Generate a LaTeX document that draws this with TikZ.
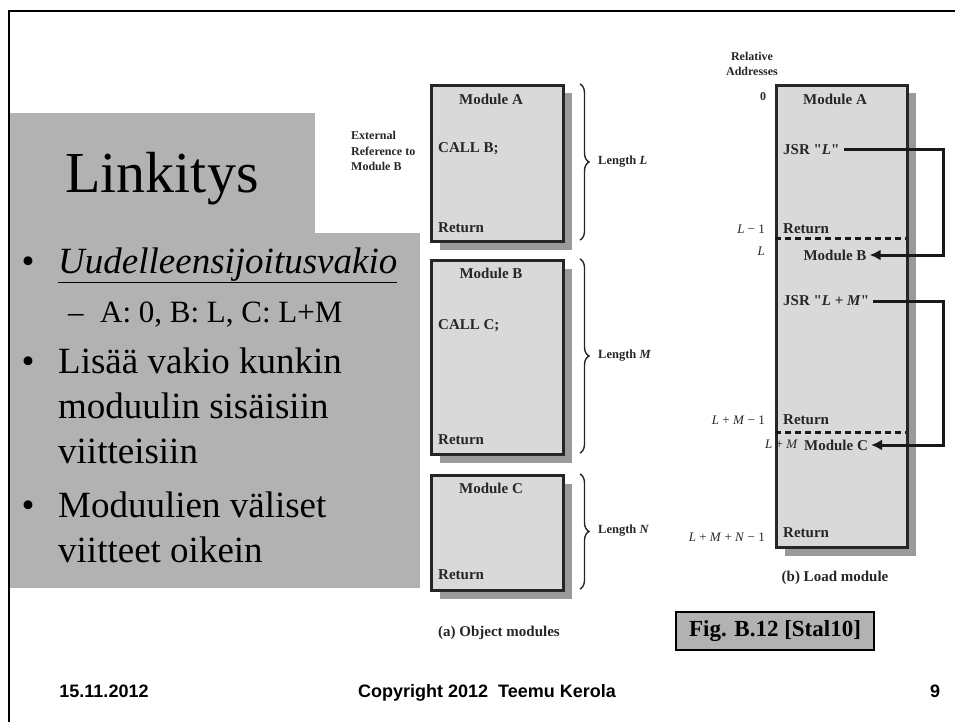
\documentclass[tikz,border=0pt]{standalone}
\usepackage{fontspec}
\setmainfont{Liberation Serif}
\setsansfont{Liberation Sans}
\usetikzlibrary{positioning,decorations.pathreplacing,shadows,arrows.meta}
\definecolor{slidegray}{HTML}{B2B2B2}
\definecolor{boxgray}{HTML}{D9D9D9}
\definecolor{shadowgray}{HTML}{9A9A9A}
\tikzset{>=stealth,
  modbox/.style={draw=black!85, line width=3pt, fill=boxgray, anchor=north west, inner sep=0pt,
    drop shadow={shadow xshift=8pt, shadow yshift=-8pt, fill=shadowgray, opacity=1}},
  modtxt/.style={font=\fontsize{15}{16}\selectfont\bfseries, text=black!85, inner sep=0pt},
  smalltxt/.style={font=\fontsize{12}{15.5}\selectfont\bfseries, text=black!85, inner sep=0pt, align=left},
  addr/.style={font=\fontsize{13}{14}\selectfont, text=black!85, anchor=east, inner sep=0pt},
  lenlbl/.style={font=\fontsize{12.5}{14}\selectfont\bfseries, text=black!85, anchor=west, inner sep=0pt},
  bodytxt/.style={font=\fontsize{37}{40}\selectfont, anchor=base west, inner sep=0pt},
  subtxt/.style={font=\fontsize{31}{34}\selectfont, anchor=base west, inner sep=0pt},
  foot/.style={font=\sffamily\bfseries\fontsize{18}{20}\selectfont, anchor=base, inner sep=0pt},
  jump/.style={line width=3pt, draw=black!90, -{Latex[length=11pt,width=11pt]}},
  lenbrace/.style={decorate, decoration={brace, amplitude=9pt}, line width=1.4pt, draw=black!85}
}
\begin{document}
\begin{tikzpicture}[x=1pt,y=-1pt]
    \useasboundingbox (0,0) rectangle (955,722);
    % slide frame and text panel
    \draw[line width=2.5pt] (9,722) -- (9,11) -- (955,11);
    \fill[slidegray] (10,113) rectangle (315,233);
    \fill[slidegray] (10,233) rectangle (420,588);
    \node[font=\fontsize{58}{60}\selectfont, anchor=base west, inner sep=0pt] (title) at (65,193) {Linkitys};

    \node[bodytxt, anchor=base] (dot1) at (28,273) {•};
    \node[bodytxt] (item1) at (58,273) {\underline{\textit{Uudelleensijoitusvakio}}};
    \node[subtxt] (dash1) at (68,322) {–};
    \node[subtxt] (sub1) at (100,322) {A: 0, B: L, C: L+M};
    \node[bodytxt, anchor=base] (dot2) at (28,373) {•};
    \node[bodytxt] (item2) at (58,373) {Lisää vakio kunkin};
    \node[bodytxt] (item2b) at (58,418) {moduulin sisäisiin};
    \node[bodytxt] (item2c) at (58,463) {viitteisiin};
    \node[bodytxt, anchor=base] (dot3) at (28,517) {•};
    \node[bodytxt] (item3) at (58,517) {Moduulien väliset};
    \node[bodytxt] (item3b) at (58,562) {viitteet oikein};

    % (a) object modules
    \node[modbox, minimum width=132pt, minimum height=156pt] (objA) at (430,84) {};
    \node[modbox, minimum width=132pt, minimum height=194pt] (objB) at (430,259) {};
    \node[modbox, minimum width=132pt, minimum height=115pt] (objC) at (430,474) {};

    \node[modtxt] (objAname) at (491,99) {Module A};
    \node[modtxt, anchor=west] (callB) at (438,149) {CALL B;};
    \node[modtxt, anchor=west] (retA) at (438,228) {Return};
    \node[modtxt] (objBname) at (491,273) {Module B};
    \node[modtxt, anchor=west] (callC) at (438,326) {CALL C;};
    \node[modtxt, anchor=west] (retB) at (438,440) {Return};
    \node[modtxt] (objCname) at (491,488) {Module C};
    \node[modtxt, anchor=west] (retC) at (438,575) {Return};

    \node[smalltxt, anchor=north west] (extref) at (351,131) {External\\Reference to\\Module B};

    \draw[lenbrace] (580,84) -- (580,240);
    \draw[lenbrace] (580,259) -- (580,453);
    \draw[lenbrace] (580,474) -- (580,589);
    \node[lenlbl] (lenL) at (598,162) {Length \textit{L}};
    \node[lenlbl] (lenM) at (598,356) {Length \textit{M}};
    \node[lenlbl] (lenN) at (598,531) {Length \textit{N}};

    \node[modtxt] (capa) at (499,633) {(a) Object modules};

    % (b) load module
    \node[modbox, minimum width=131pt, minimum height=462pt] (load) at (775,84) {};
    \node[smalltxt, align=center] (reladdr) at (752,64) {Relative\\Addresses};
    \node[smalltxt] (zero) at (763,97) {0};

    \node[modtxt] (ldA) at (835,99) {Module A};
    \node[modtxt, anchor=west, inner xsep=4pt] (jsrL) at (779,150) {JSR \textquotedbl\textit{L}\textquotedbl};
    \node[modtxt, anchor=west] (ldretA) at (783,229) {Return};
    \node[addr] (aL1) at (765,229) {\textit{L} − 1};
    \draw[line width=3pt, dash pattern=on 6pt off 4pt, black!90] (775,238) -- (906,238);
    \node[addr] (aL) at (765,251) {\textit{L}};
    \node[modtxt, inner xsep=3pt] (ldB) at (835,255) {Module B};

    \node[modtxt, anchor=west, inner xsep=4pt] (jsrLM) at (779,301) {JSR \textquotedbl\textit{L} + \textit{M}\textquotedbl};
    \node[modtxt, anchor=west] (ldretB) at (783,420) {Return};
    \node[addr] (aLM1) at (765,420) {\textit{L} + \textit{M} − 1};
    \draw[line width=3pt, dash pattern=on 6pt off 4pt, black!90] (775,432) -- (906,432);
    \node[modtxt, inner xsep=3pt] (ldC) at (836,445) {Module C};
    \node[addr, anchor=west] (aLM) at (765,444) {\textit{L} + \textit{M}};

    \node[modtxt, anchor=west] (ldretC) at (783,533) {Return};
    \node[addr] (aLMN1) at (765,537) {\textit{L} + \textit{M} + \textit{N} − 1};

    \node[modtxt] (capb) at (835,578) {(b) Load module};

    \coordinate (rail) at (943,0);
    \draw[jump] (jsrL.east) -- (jsrL.east -| rail) |- (ldB.east);
    \draw[jump] (jsrLM.east) -- (jsrLM.east -| rail) |- (ldC.east);

    \node[draw, fill=slidegray, line width=1.2pt, minimum width=198pt, minimum height=38pt,
          font=\fontsize{23}{24}\selectfont\bfseries] (figref) at (775,631) {Fig. B.12 [Stal10]};

    % footer
    \node[foot] (date) at (104,697) {15.11.2012};
    \node[foot] (copy) at (487,697) {Copyright 2012\ \ Teemu Kerola};
    \node[foot] (page) at (935,697) {9};
\end{tikzpicture}
\end{document}
